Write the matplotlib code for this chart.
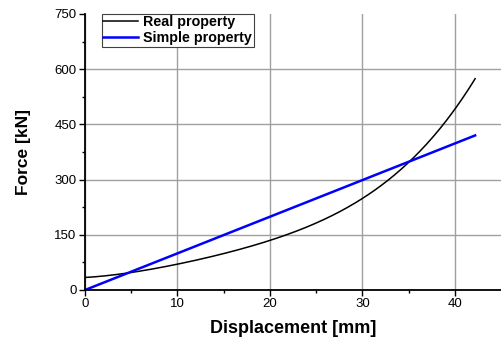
import matplotlib
matplotlib.use("Agg")
import matplotlib.pyplot as plt
import numpy as np

plt.rcParams['font.family'] = ['Liberation Sans', 'DejaVu Sans']

# Data
real_x = [0, 5, 10, 15, 20, 25, 30, 35, 40, 42.2]
real_y = [33, 50, 70, 97, 134, 183, 250, 348, 485, 578]
simple_x = [0, 42.2]
simple_y = [0, 420]

xticks = [0, 10, 20, 30, 40]
yticks = [0, 150, 300, 450, 600, 750]

fig = plt.figure(figsize=(5.01, 3.40), dpi=100)
ax = fig.add_axes([85/501, 1-290/340, 416/501, 276/340])

# smooth the real curve through the read points
xs = np.linspace(real_x[0], real_x[-1], 300)
coef = np.polyfit(real_x, real_y, 4)
ax.plot(xs, np.polyval(coef, xs), color='black', lw=1.1, label='Real property')
ax.plot(simple_x, simple_y, color='#0000ff', lw=1.8, label='Simple property')

ax.set_xlim(0, 45)
ax.set_ylim(0, 750)
ax.set_xticks(xticks)
ax.set_yticks(yticks)
ax.set_xticks([5, 15, 25, 35], minor=True)
ax.set_yticks([75, 225, 375, 525, 675], minor=True)
ax.grid(True, which='major', color='#a0a0a0', lw=1.0)
ax.set_axisbelow(True)
# hide top gridline (not shown in the reference)
ax.get_ygridlines()[-1].set_visible(False)
for s in ['top', 'right']:
    ax.spines[s].set_visible(False)
for s in ['left', 'bottom']:
    ax.spines[s].set_linewidth(1.3)
ax.tick_params(which='major', direction='out', length=4, width=1, labelsize=9.5, pad=2)
ax.tick_params(which='minor', direction='out', length=2.5, width=1)

ax.set_xlabel('Displacement [mm]', fontsize=13, fontweight='bold', labelpad=7)
ax.set_ylabel('Force [kN]', fontsize=12.5, fontweight='bold', labelpad=17)

leg = ax.legend(loc='upper left', bbox_to_anchor=((102-85)/416, 1.0), frameon=True,
                fancybox=False, edgecolor='#404040', borderpad=0.1, labelspacing=0.12,
                handlelength=2.45, handletextpad=0.35, borderaxespad=0,
                prop={'weight': 'bold', 'size': 10.3})
leg.get_frame().set_linewidth(0.8)
leg.get_frame().set_alpha(1)

fig.savefig('out.png', dpi=100)
